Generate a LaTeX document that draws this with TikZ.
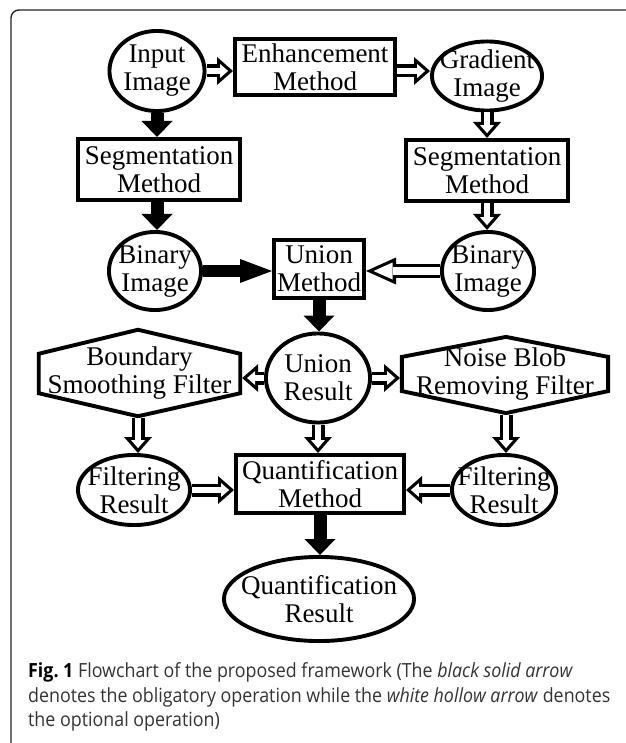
\documentclass[tikz,border=0pt]{standalone}
\usepackage{fontspec}
\setmainfont{Liberation Serif}
\newfontfamily\capfont{Open Sans}[FakeStretch=0.915]
\usetikzlibrary{shapes.geometric,arrows.meta}
\newcommand\dfont{\fontsize{27}{28}\selectfont}
\newcommand\cfont{\capfont\fontsize{19.5}{24.5}\selectfont}
\begin{document}
\begin{tikzpicture}[x=1pt,y=-1pt,
  box/.style={draw, line width=3.9pt, rectangle, inner sep=0pt, align=center, font=\dfont},
  ell/.style={draw, line width=3.9pt, ellipse, inner xsep=-30pt, inner ysep=-18pt, align=center, font=\dfont},
  txt/.style={inner sep=0pt, align=center, font=\dfont},
  hexline/.style={draw, line width=3.9pt, line join=miter},
  blk/.style={line width=13pt, -{Triangle[length=16pt,width=31pt,line width=0pt]}},
  blklong/.style={line width=12pt, -{Triangle[length=32pt,width=24pt,line width=0pt]}},
  hol/.style={line width=13pt, -{Triangle[length=16pt,width=28pt,line width=0pt]},
    postaction={draw=white, line width=6.5pt, shorten >=4.9pt,
      -{Triangle[length=8pt,width=14pt,line width=0pt]}}},
  hollong/.style={line width=14pt, -{Triangle[length=30pt,width=27pt,line width=0pt]},
    postaction={draw=white, line width=7.5pt, shorten >=7.6pt,
      -{Triangle[length=19pt,width=17pt,line width=0pt]}}},
  capline/.style={anchor=base west, inner sep=0pt, font=\cfont, text=black!80}
]
\useasboundingbox (0,0) rectangle (625,743);
\fill[white] (0,0) rectangle (625,743);
% frame
\draw[line width=1.4pt, black!85, rounded corners=8pt] (640,10) -- (11,10) -- (11,752) -- (120,752);

% nodes
\node[ell, minimum width=95.1, minimum height=80.1] (in) at (157,71) {Input\\Image};
\node[box, minimum width=160.1, minimum height=56.1] (enh) at (315,67) {Enhancement\\Method};
\node[ell, minimum width=110.1, minimum height=69.1] (grad) at (487,76) {Gradient\\Image};
\node[box, minimum width=162.1, minimum height=61.1] (segl) at (159,169.5) {Segmentation\\Method};
\node[box, minimum width=162.1, minimum height=61.1] (segr) at (487,170.5) {Segmentation\\Method};
\node[ell, minimum width=92.1, minimum height=78.1] (binl) at (155,271) {Binary\\Image};
\node[box, minimum width=90.1, minimum height=58.1] (union) at (319,269) {Union\\Method};
\node[ell, minimum width=92.1, minimum height=78.1] (binr) at (488,271) {Binary\\Image};
\node[ell, minimum width=104.1, minimum height=89.1] (ur) at (318,378) {Union\\Result};

\node[txt] (bsf) at (139.5,373.5) {Boundary\\Smoothing Filter};
\draw[hexline] ([shift={(-100.75,-19.75)}]bsf.center) -- ([shift={(-1.5,-43.75)}]bsf.center)
  -- ([shift={(100.75,-19.75)}]bsf.center) -- ([shift={(100.75,19.75)}]bsf.center)
  -- ([shift={(-1.5,42.75)}]bsf.center) -- ([shift={(-100.75,19.75)}]bsf.center) -- cycle;
\coordinate (bsfE) at ([shift={(102.7,0)}]bsf.center);
\coordinate (bsfB) at ([shift={(-1.5,44.4)}]bsf.center);

\node[txt] (nbr) at (505,374) {Noise Blob\\Removing Filter};
\draw[hexline] ([shift={(-103.1,-17.1)}]nbr.center) -- ([shift={(1,-37.1)}]nbr.center)
  -- ([shift={(103.1,-17.1)}]nbr.center) -- ([shift={(103.1,17.1)}]nbr.center)
  -- ([shift={(1,39.1)}]nbr.center) -- ([shift={(-103.1,17.1)}]nbr.center) -- cycle;
\coordinate (nbrW) at ([shift={(-105,0)}]nbr.center);
\coordinate (nbrB) at ([shift={(1,40.8)}]nbr.center);

\node[ell, minimum width=112.1, minimum height=70.1] (filtl) at (134,490) {Filtering\\Result};
\node[box, minimum width=168.1, minimum height=58.1] (quant) at (320,484) {Quantification\\Method};
\node[ell, minimum width=104.1, minimum height=70.1] (filtr) at (504,490) {Filtering\\Result};
\node[ell, minimum width=190.1, minimum height=84.1] (qr) at (319,599) {Quantification\\Result};

% connectors
\draw[hol] (in) -- (enh.west |- in);
\draw[hol] (enh.east |- in) -- (grad.west |- in);
\draw[blk] (in) -- (segl.north -| in);
\draw[hol] (grad) -- (segr.north -| grad);
\draw[blk] (segl.south -| in) -- (binl.north -| in);
\draw[hol] (segr.south -| grad) -- (binr.north -| grad);
\draw[blklong] (binl) -- (union.west |- binl);
\draw[hollong] (binr) -- (union.east |- binr);
\draw[blk] (union) -- (ur.north -| union);
\draw[hol] (ur) -- (bsfE |- ur);
\draw[hol] (ur) -- (nbrW |- ur);
\draw[hol] (bsfB) -- (filtl.north -| bsfB);
\draw[hol] (ur) -- (quant.north -| ur);
\draw[hol] (nbrB) -- (filtr.north -| nbrB);
\draw[hol] (filtl) -- (quant.west |- filtl);
\draw[hol] (filtr) -- (quant.east |- filtr);
\draw[blk] (quant) -- (qr.north -| quant);

% caption
\node[capline] (cap1) at (28,677) {\textbf{\color{black}Fig.~1} Flowchart of the proposed framework (The \textit{black solid arrow}};
\node[capline] (cap2) at (28,702) {denotes the obligatory operation while the \textit{white hollow arrow} denotes};
\node[capline] (cap3) at (28,726) {the optional operation)};
\end{tikzpicture}
\end{document}
